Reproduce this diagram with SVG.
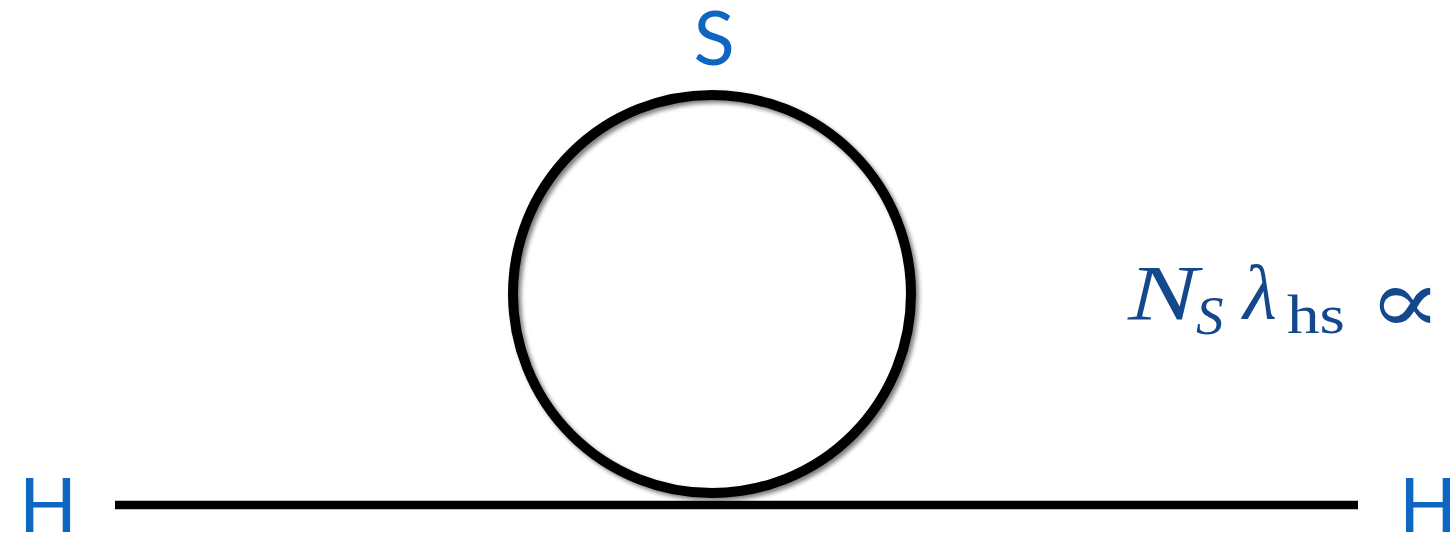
<svg xmlns="http://www.w3.org/2000/svg" width="1450" height="535" viewBox="0 0 1450 535">
<style>
.lbl{font-family:Lato,"Open Sans",sans-serif;fill:#0e66c2;font-size:76px}
.math{font-family:"Liberation Serif",serif;fill:#13488c}
.line{stroke:#000;fill:none}
</style>
<defs>
<filter id="sh" x="-10%" y="-10%" width="120%" height="120%">
<feGaussianBlur in="SourceAlpha" stdDeviation="2"/>
<feOffset dx="3" dy="3" result="b"/>
<feFlood flood-color="#000" flood-opacity="0.5"/>
<feComposite in2="b" operator="in"/>
<feMerge><feMergeNode/><feMergeNode in="SourceGraphic"/></feMerge>
</filter>
</defs>
<rect width="1450" height="535" fill="#fff"/>
<g id="connectors">
<line class="line" x1="115" y1="505" x2="1358" y2="505" stroke-width="8.5"/>
</g>
<g id="loop">
<circle class="line" cx="712" cy="294" r="199" stroke-width="10" filter="url(#sh)"/>
</g>
<g id="S"><text class="lbl" x="714" y="65" text-anchor="middle">S</text></g>
<g id="H-left"><text class="lbl" x="19" y="532">H</text></g>
<g id="H-right"><text class="lbl" x="1399" y="532">H</text></g>
<g id="formula">
<text class="math" x="1128" y="319" font-size="79" font-style="italic" textLength="70" lengthAdjust="spacingAndGlyphs">N</text>
<text class="math" x="1196" y="334" font-size="55" font-style="italic">S</text>
<text class="math" x="1243" y="319" font-size="78" font-style="italic">λ</text>
<text class="math" x="1287" y="333" font-size="55" textLength="58" lengthAdjust="spacingAndGlyphs">hs</text>
<text x="1368" y="333" font-family="'DejaVu Serif',serif" fill="#13488c" font-size="92" textLength="74" lengthAdjust="spacingAndGlyphs">∝</text>
</g>
</svg>
